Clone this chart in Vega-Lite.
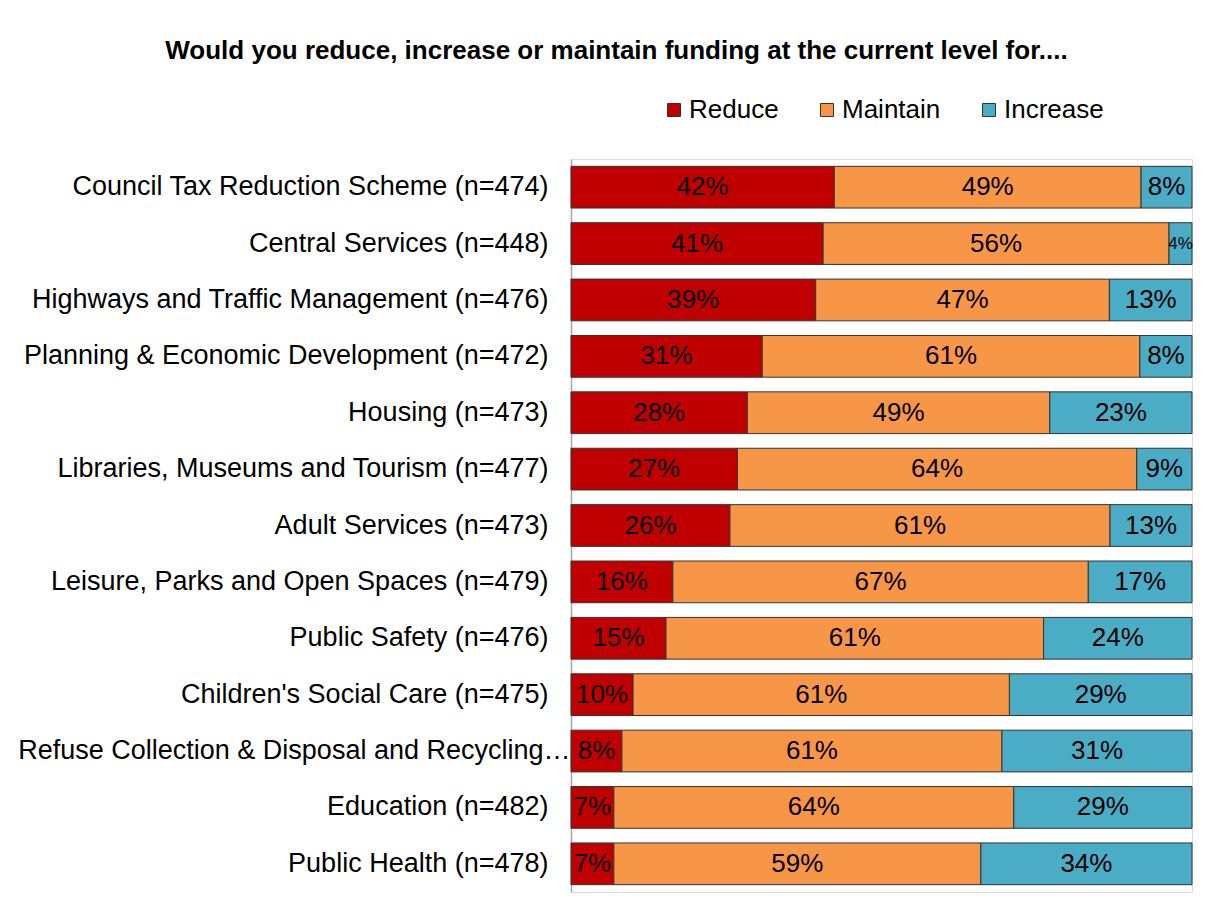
{
  "$schema": "https://vega.github.io/schema/vega-lite/v6.json",
  "autosize": {"type": "none"},
  "padding": {"left": 571, "top": 159, "right": 16, "bottom": 21},
  "width": 621,
  "height": 733,
  "background": "white",
  "title": {
    "text": "Would you reduce, increase or maintain funding at the current level for....",
    "font": "Liberation Sans",
    "fontSize": 26,
    "fontWeight": "bold",
    "color": "#000000",
    "anchor": "middle",
    "frame": "group",
    "dx": -265,
    "offset": 33
  },
  "data": {
    "values": [
      {"service": "Council Tax Reduction Scheme (n=474)", "cat": "Reduce", "value": 0.424},
      {"service": "Council Tax Reduction Scheme (n=474)", "cat": "Maintain", "value": 0.494},
      {"service": "Council Tax Reduction Scheme (n=474)", "cat": "Increase", "value": 0.082},
      {"service": "Central Services (n=448)", "cat": "Reduce", "value": 0.406},
      {"service": "Central Services (n=448)", "cat": "Maintain", "value": 0.557},
      {"service": "Central Services (n=448)", "cat": "Increase", "value": 0.037},
      {"service": "Highways and Traffic Management (n=476)", "cat": "Reduce", "value": 0.394},
      {"service": "Highways and Traffic Management (n=476)", "cat": "Maintain", "value": 0.473},
      {"service": "Highways and Traffic Management (n=476)", "cat": "Increase", "value": 0.133},
      {"service": "Planning & Economic Development (n=472)", "cat": "Reduce", "value": 0.308},
      {"service": "Planning & Economic Development (n=472)", "cat": "Maintain", "value": 0.608},
      {"service": "Planning & Economic Development (n=472)", "cat": "Increase", "value": 0.084},
      {"service": "Housing (n=473)", "cat": "Reduce", "value": 0.284},
      {"service": "Housing (n=473)", "cat": "Maintain", "value": 0.487},
      {"service": "Housing (n=473)", "cat": "Increase", "value": 0.229},
      {"service": "Libraries, Museums and Tourism (n=477)", "cat": "Reduce", "value": 0.268},
      {"service": "Libraries, Museums and Tourism (n=477)", "cat": "Maintain", "value": 0.643},
      {"service": "Libraries, Museums and Tourism (n=477)", "cat": "Increase", "value": 0.089},
      {"service": "Adult Services (n=473)", "cat": "Reduce", "value": 0.256},
      {"service": "Adult Services (n=473)", "cat": "Maintain", "value": 0.612},
      {"service": "Adult Services (n=473)", "cat": "Increase", "value": 0.132},
      {"service": "Leisure, Parks and Open Spaces (n=479)", "cat": "Reduce", "value": 0.164},
      {"service": "Leisure, Parks and Open Spaces (n=479)", "cat": "Maintain", "value": 0.669},
      {"service": "Leisure, Parks and Open Spaces (n=479)", "cat": "Increase", "value": 0.167},
      {"service": "Public Safety (n=476)", "cat": "Reduce", "value": 0.153},
      {"service": "Public Safety (n=476)", "cat": "Maintain", "value": 0.608},
      {"service": "Public Safety (n=476)", "cat": "Increase", "value": 0.239},
      {"service": "Children's Social Care (n=475)", "cat": "Reduce", "value": 0.100},
      {"service": "Children's Social Care (n=475)", "cat": "Maintain", "value": 0.606},
      {"service": "Children's Social Care (n=475)", "cat": "Increase", "value": 0.294},
      {"service": "Refuse Collection & Disposal and Recycling (n=480)", "cat": "Reduce", "value": 0.082},
      {"service": "Refuse Collection & Disposal and Recycling (n=480)", "cat": "Maintain", "value": 0.612},
      {"service": "Refuse Collection & Disposal and Recycling (n=480)", "cat": "Increase", "value": 0.306},
      {"service": "Education (n=482)", "cat": "Reduce", "value": 0.069},
      {"service": "Education (n=482)", "cat": "Maintain", "value": 0.644},
      {"service": "Education (n=482)", "cat": "Increase", "value": 0.287},
      {"service": "Public Health (n=478)", "cat": "Reduce", "value": 0.069},
      {"service": "Public Health (n=478)", "cat": "Maintain", "value": 0.591},
      {"service": "Public Health (n=478)", "cat": "Increase", "value": 0.340}
    ]
  },
  "transform": [
    {"stack": "value", "groupby": ["service"], "sort": [{"field": "cat", "order": "descending"}], "as": ["v0", "v1"]},
    {"calculate": "(datum.v0 + datum.v1) / 2", "as": "mid"}
  ],
  "encoding": {
    "y": {
      "field": "service",
      "type": "nominal",
      "sort": null,
      "scale": {"paddingInner": 0.26, "paddingOuter": 0.13},
      "axis": {
        "title": null,
        "ticks": false,
        "domain": true,
        "domainColor": "#a6a6a6",
        "domainWidth": 1.5,
        "labelFont": "Liberation Sans",
        "labelFontSize": 27,
        "labelColor": "#000000",
        "labelPadding": {"condition": {"test": "indexof(datum.value, 'Refuse') == 0", "value": 1}, "value": 23},
        "labelLimit": 0,
        "labelExpr": "indexof(datum.value, 'Refuse') == 0 ? 'Refuse Collection & Disposal and Recycling…' : datum.label"
      }
    }
  },
  "layer": [
    {
      "mark": {"type": "bar", "stroke": "#333333", "strokeWidth": 1},
      "encoding": {
        "x": {"field": "v0", "type": "quantitative", "scale": {"domain": [0, 1], "nice": false, "zero": true}, "axis": null},
        "x2": {"field": "v1"},
        "color": {
          "field": "cat",
          "type": "nominal",
          "sort": ["Reduce", "Maintain", "Increase"],
          "scale": {"domain": ["Reduce", "Maintain", "Increase"], "range": ["#C00000", "#F79646", "#4BACC6"]},
          "legend": {
            "title": null,
            "orient": "none",
            "direction": "horizontal",
            "legendX": 90,
            "legendY": -62,
            "symbolType": "square",
            "symbolSize": 169,
            "symbolStrokeColor": "#333333",
            "symbolStrokeWidth": 1,
            "symbolOpacity": 1,
            "labelFont": "Liberation Sans",
            "labelFontSize": 26,
            "labelColor": "#000000",
            "labelOffset": 2,
            "columnPadding": 35
          }
        }
      }
    },
    {
      "mark": {"type": "text", "font": "Liberation Sans", "color": "#000000", "align": "center", "baseline": "middle"},
      "encoding": {
        "x": {"field": "mid", "type": "quantitative"},
        "text": {"field": "value", "type": "quantitative", "format": ".0%"},
        "size": {"condition": {"test": "datum.value < 0.05", "value": 17}, "value": 26}
      }
    }
  ]
}
